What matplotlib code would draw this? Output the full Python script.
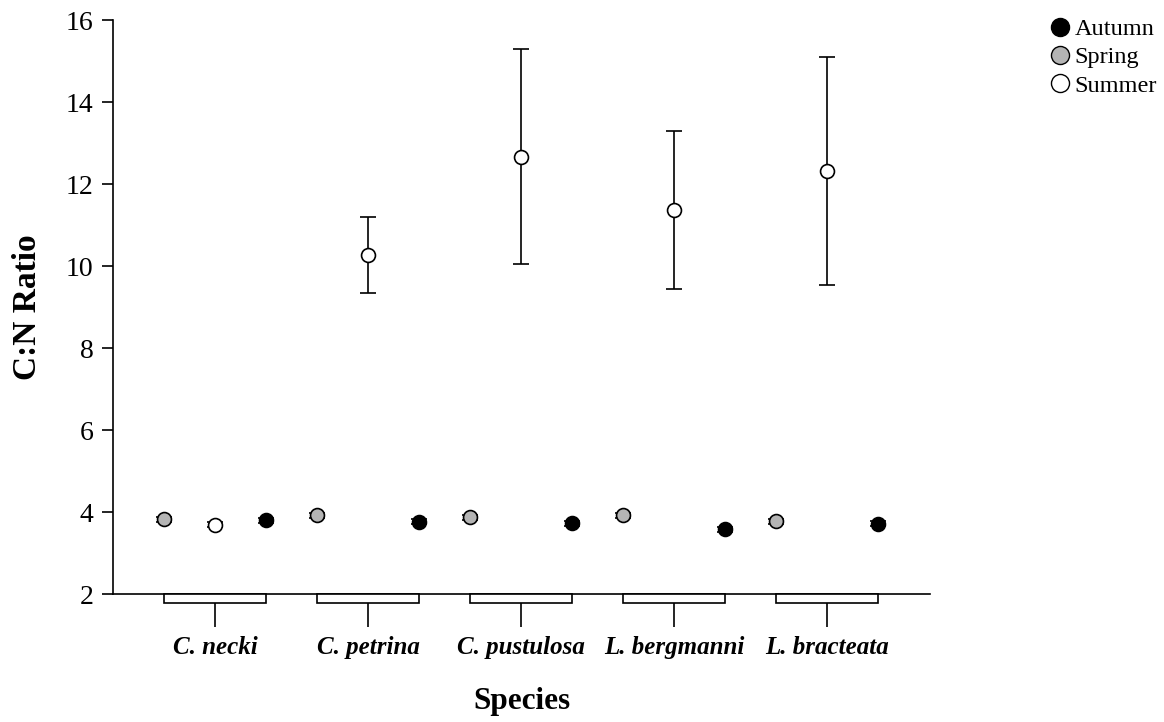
import matplotlib
matplotlib.use('Agg')
import matplotlib.pyplot as plt
from matplotlib.lines import Line2D
from matplotlib.patches import Rectangle
import numpy as np

plt.rcParams['font.family'] = ['Liberation Serif', 'DejaVu Serif']

species = ['C. necki', 'C. petrina', 'C. pustulosa', 'L. bergmanni', 'L. bracteata']
seasons = ['Spring', 'Summer', 'Autumn']

# mean C:N ratio and standard error per season
spring_mean = [3.83, 3.93, 3.88, 3.93, 3.78]
spring_err = [0.06, 0.06, 0.06, 0.06, 0.06]
summer_mean = [3.70, 10.27, 12.67, 11.37, 12.32]
summer_err = [0.05, 0.92, 2.62, 1.92, 2.78]
autumn_mean = [3.80, 3.77, 3.73, 3.58, 3.72]
autumn_err = [0.06, 0.06, 0.06, 0.06, 0.06]

series = {
    'Spring': (spring_mean, spring_err, '#b4b4b4', -0.335),
    'Summer': (summer_mean, summer_err, 'white', 0.0),
    'Autumn': (autumn_mean, autumn_err, 'black', 0.335),
}

fig = plt.figure(figsize=(11.64, 7.22), dpi=100)
ax = fig.add_axes([0.097, 0.177, 0.702, 0.795])

x = np.arange(len(species))
for name in seasons:
    mean, err, color, off = series[name]
    ax.errorbar(x + off, mean, yerr=err, fmt='o', color='black',
                markerfacecolor=color, markeredgecolor='black',
                markersize=10, markeredgewidth=1.2, ecolor='black',
                elinewidth=1.2, capsize=6, capthick=1.2, zorder=3)

# boxes under the axis spanning each species group
for xi in x:
    ax.add_patch(Rectangle((xi - 0.335, 1.78), 0.67, 0.22, facecolor='white',
                           edgecolor='black', linewidth=1.2, clip_on=False,
                           zorder=4))

ax.set_xlim(-0.667, 4.673)
ax.set_ylim(2, 16)
ax.set_yticks(range(2, 17, 2))
ax.set_xticks(x)
ax.set_xticklabels(species, fontsize=18, fontweight='bold', fontstyle='italic')
ax.tick_params(axis='x', length=24, width=1.2, pad=6)
ax.tick_params(axis='y', length=8, width=1.2, labelsize=20, pad=6)
ax.spines['top'].set_visible(False)
ax.spines['right'].set_visible(False)
for s in ['left', 'bottom']:
    ax.spines[s].set_linewidth(1.2)

ax.set_ylabel('C:N Ratio', fontsize=24, fontweight='bold', labelpad=16)
ax.set_xlabel('Species', fontsize=22.5, fontweight='bold', labelpad=20)

handles = [
    Line2D([], [], marker='o', linestyle='none', markersize=13,
           markerfacecolor='black', markeredgecolor='black', label='Autumn'),
    Line2D([], [], marker='o', linestyle='none', markersize=13,
           markerfacecolor='#b4b4b4', markeredgecolor='black', label='Spring'),
    Line2D([], [], marker='o', linestyle='none', markersize=13,
           markerfacecolor='white', markeredgecolor='black', label='Summer'),
]
fig.legend(handles=handles, loc='upper left', bbox_to_anchor=(0.892, 0.988),
           frameon=False, fontsize=17.5, handletextpad=0.1, labelspacing=0.25,
           handlelength=1.0, borderaxespad=0)

fig.savefig('out.png', dpi=100)
